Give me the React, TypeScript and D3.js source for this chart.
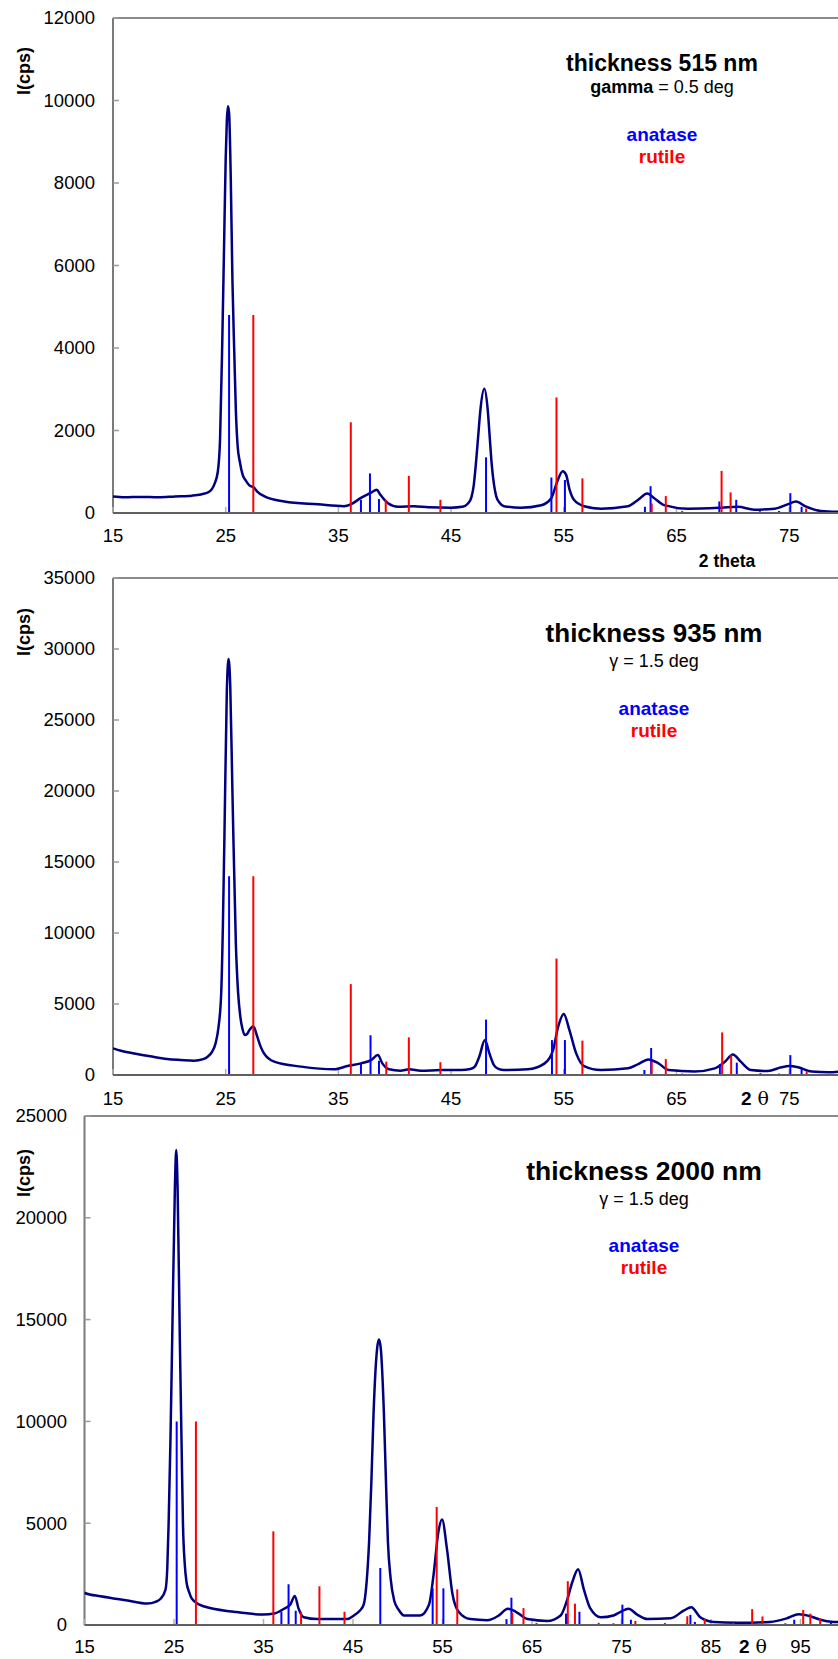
import React, { useEffect } from "react";
import * as d3 from "d3";

// ---------- DATA ----------
// Panel 1: thickness 515 nm, gamma = 0.5 deg  ([2theta, I(cps)])
const curve515: [number, number][] = [
  [15, 400], [16, 380], [17.5, 390], [19, 380], [20.5, 400], [22, 420], [22.8, 450], [23.5, 510],
  [24.0, 700], [24.3, 1000], [24.5, 1800], [24.7, 4200], [24.85, 6400], [25.0, 8600], [25.1, 9500],
  [25.2, 9860], [25.3, 9700], [25.45, 8100], [25.6, 5600], [25.77, 3800], [25.9, 2500], [26.06, 1620],
  [26.25, 1250], [26.5, 930], [26.8, 780], [27.1, 670], [27.5, 620], [27.8, 520],
  [28.4, 410], [30.2, 280], [33.2, 210], [35.5, 165], [36.1, 210], [37.0, 365], [37.9, 495],
  [38.4, 565], [38.7, 450], [39.4, 235], [40.3, 150], [41.7, 165], [43, 140], [45, 130], [46.0, 150],
  [46.5, 230], [46.8, 380], [47.0, 650], [47.2, 1190], [47.4, 1850], [47.6, 2500], [47.95, 3010],
  [48.25, 2500], [48.45, 1750], [48.6, 1190], [48.8, 700], [49.0, 410], [49.3, 250],
  [49.7, 165], [51.2, 130], [53.0, 190], [53.9, 365], [54.3, 670], [54.9, 1015], [55.2, 930],
  [55.5, 580], [55.9, 320], [56.8, 165], [58.3, 105], [60.7, 165], [61.6, 320], [62.4, 475],
  [63.0, 365], [63.9, 190], [66.0, 105], [69.0, 130], [70.45, 150], [71.9, 80], [73.7, 105],
  [74.9, 215], [75.6, 280], [76.4, 165], [77.8, 50], [79.4, 30],
];
const anatase515: [number, number][] = [
  [25.3, 4800], [37.0, 320], [37.8, 960], [38.6, 340], [48.1, 1350], [53.9, 860], [55.1, 800],
  [62.2, 150], [62.7, 650], [68.8, 280], [70.3, 320], [74.1, 50], [75.1, 480], [76.1, 150],
];
const rutile515: [number, number][] = [
  [27.45, 4800], [36.1, 2200], [39.2, 320], [41.25, 900], [44.05, 320], [54.35, 2800], [56.65, 840],
  [62.8, 230], [64.05, 410], [65.5, 50], [69.0, 1020], [69.8, 500], [72.4, 50], [76.5, 110],
];

// Panel 2: thickness 935 nm, gamma = 1.5 deg
const curve935: [number, number][] = [
  [15, 1880], [15.7, 1710], [16.9, 1520], [18.3, 1320], [19.8, 1130], [21, 1060], [22.2, 1010],
  [23.0, 1120], [23.4, 1290], [23.8, 1650], [24.1, 2230], [24.35, 3300], [24.6, 5740], [24.75, 10500],
  [24.9, 17460], [25.1, 27000], [25.25, 29300], [25.4, 27500], [25.6, 19830], [25.9, 9260],
  [26.1, 5800], [26.3, 4100], [26.5, 3200], [26.7, 2810], [26.9, 2900], [27.1, 3160], [27.45, 3440],
  [27.8, 2700], [28.1, 2000], [28.4, 1520], [29.3, 940], [31.7, 590], [34.6, 400], [35.8, 630], [37.0, 820],
  [37.9, 1050], [38.5, 1400], [38.9, 820], [39.5, 400], [40.5, 300], [41.3, 400], [42.3, 300],
  [44.1, 350], [45.9, 350], [46.7, 420], [47.1, 590], [47.5, 1290], [48.0, 2460], [48.4, 1520],
  [48.8, 700], [49.2, 430], [49.7, 350], [51.8, 400], [53.3, 820], [54.05, 1760], [54.5, 3400],
  [55.0, 4290], [55.5, 3160], [56.1, 1520], [56.8, 630], [58.3, 350], [60.7, 470], [61.6, 770],
  [62.5, 1100], [63.4, 820], [64.3, 350], [66.6, 250], [68.4, 470], [69.3, 940], [70.0, 1450],
  [70.7, 940], [71.6, 350], [73.1, 280], [74.3, 540], [75.0, 630], [75.8, 540], [77.0, 240],
  [78.5, 190], [79.4, 240],
];
const anatase935: [number, number][] = [
  [25.3, 14000], [37.0, 820], [37.85, 2800], [38.6, 1000], [48.1, 3900], [53.95, 2460], [55.1, 2460],
  [62.15, 350], [62.75, 1900], [68.85, 770], [70.35, 870], [74.1, 100], [75.1, 1400], [76.1, 420],
];
const rutile935: [number, number][] = [
  [27.45, 14000], [36.1, 6400], [39.25, 940], [41.25, 2650], [44.05, 900], [54.35, 8200],
  [56.65, 2420], [62.8, 930], [64.05, 1120], [65.5, 100], [69.05, 3000], [69.85, 1400], [72.45, 140],
  [76.55, 280],
];

// Panel 3: thickness 2000 nm, gamma = 1.5 deg
const curve2000: [number, number][] = [
  [15.0, 1600], [15.1, 1560], [16.8, 1410], [19.8, 1200], [22.0, 1050], [23.0, 1150], [23.5, 1290],
  [24.05, 1740], [24.25, 2800], [24.4, 5000], [24.6, 9000], [24.8, 14060], [25.1, 21500],
  [25.25, 23330], [25.4, 21500], [25.65, 14060], [25.85, 8800], [26.0, 5000], [26.2, 3000],
  [26.4, 2100], [26.7, 1600], [27.0, 1290], [28.3, 920], [31.7, 650], [35.0, 510], [36.2, 560],
  [37.3, 800], [38.0, 1010], [38.5, 1430], [38.9, 830], [39.5, 380], [41.0, 290], [44.35, 290],
  [45.1, 470], [45.8, 720], [46.2, 1010], [46.5, 2000], [46.8, 4100], [47.05, 7000], [47.3, 10430],
  [47.7, 13600], [47.9, 14020], [48.1, 13600], [48.45, 10430], [48.7, 6800], [48.9, 4100],
  [49.2, 2300], [49.6, 1200], [50.1, 750], [50.7, 470], [52.5, 470], [53.5, 1010], [54.0, 2460],
  [54.55, 4600], [54.95, 5180], [55.5, 3730], [56.1, 1560], [56.8, 650], [58.1, 290], [60.0, 235],
  [61.3, 470], [62.3, 800], [63.2, 650], [64.5, 290], [66.7, 200], [68.2, 470], [68.9, 1200],
  [69.5, 2100], [70.15, 2740], [70.8, 1740], [71.5, 830], [72.7, 380], [74.1, 470], [74.9, 650],
  [75.8, 800], [76.75, 510], [77.9, 290], [80.5, 330], [82.0, 720], [82.8, 870], [83.8, 380],
  [85.3, 150], [87.9, 110], [91.6, 150], [93.5, 330], [94.8, 530], [96.1, 430], [97.2, 260],
  [98.7, 150], [99.4, 140],
];
const anatase2000: [number, number][] = [
  [25.3, 10000], [37.0, 650], [37.8, 2000], [38.6, 700], [48.05, 2800], [53.9, 1800], [55.1, 1800],
  [62.15, 290], [62.7, 1340], [68.8, 560], [70.3, 650], [74.1, 80], [75.1, 1000], [76.05, 260],
  [80.8, 40], [82.3, 80], [82.7, 500], [83.2, 150], [93.3, 80], [94.3, 260], [98.4, 130],
];
const rutile2000: [number, number][] = [
  [27.45, 10000], [36.1, 4600], [39.2, 650], [41.25, 1900], [44.05, 650], [54.35, 5800],
  [56.65, 1750], [62.8, 600], [64.05, 830], [65.5, 100], [69.0, 2150], [69.8, 1050], [72.45, 110],
  [76.55, 200], [79.85, 100], [82.35, 430], [84.3, 290], [87.5, 100], [89.6, 780], [90.75, 420],
  [95.3, 740], [96.1, 560], [97.2, 330],
];

const xTicksA = [15, 25, 35, 45, 55, 65, 75];
const xTicksB = [15, 25, 35, 45, 55, 65, 75, 85, 95];
const yTicks1 = [0, 2000, 4000, 6000, 8000, 10000, 12000];
const yTicks2 = [0, 5000, 10000, 15000, 20000, 25000, 30000, 35000];
const yTicks3 = [0, 5000, 10000, 15000, 20000, 25000];

// ---------- LAYOUT ----------
const W = 838;
const H = 1659;
const FONT = "'Liberation Sans', Arial, Helvetica, sans-serif";

type PanelCfg = {
  id: string;
  left: number;
  top: number;
  bottom: number;
  xDom: [number, number];
  xRange: [number, number];
  yMax: number;
  xTicks: number[];
  yTicks: number[];
  yLabelX: number;
  xLabelY: number;
  yTitle: [number, number];
  curve: [number, number][];
  anatase: [number, number][];
  rutile: [number, number][];
  title: string;
  titleSize: number;
  titleX: number;
  titleY: number;
  gammaY: number;
  gammaBold: boolean;
  gammaText: string;
  legendY: number;
  xTitle: { text: string; x: number; y: number; theta: boolean };
};

const panels: PanelCfg[] = [
  {
    id: "p1", left: 113, top: 18, bottom: 513, xDom: [15, 75], xRange: [113, 789.2], yMax: 12000,
    xTicks: xTicksA, yTicks: yTicks1, yLabelX: 95, xLabelY: 542, yTitle: [24, 71],
    curve: curve515, anatase: anatase515, rutile: rutile515,
    title: "thickness 515 nm", titleSize: 23, titleX: 662, titleY: 71, gammaY: 93, gammaBold: true,
    gammaText: " = 0.5 deg", legendY: 141,
    xTitle: { text: "2 theta", x: 727, y: 567, theta: false },
  },
  {
    id: "p2", left: 113, top: 578, bottom: 1075, xDom: [15, 75], xRange: [113, 789.2], yMax: 35000,
    xTicks: xTicksA, yTicks: yTicks2, yLabelX: 95, xLabelY: 1105, yTitle: [24, 632],
    curve: curve935, anatase: anatase935, rutile: rutile935,
    title: "thickness 935 nm", titleSize: 26, titleX: 654, titleY: 642, gammaY: 667, gammaBold: false,
    gammaText: " = 1.5 deg", legendY: 715,
    xTitle: { text: "2", x: 755, y: 1105, theta: true },
  },
  {
    id: "p3", left: 84.5, top: 1116, bottom: 1625, xDom: [15, 95], xRange: [84.5, 800.5], yMax: 25000,
    xTicks: xTicksB, yTicks: yTicks3, yLabelX: 67, xLabelY: 1653, yTitle: [24, 1173],
    curve: curve2000, anatase: anatase2000, rutile: rutile2000,
    title: "thickness 2000 nm", titleSize: 26.5, titleX: 644, titleY: 1180, gammaY: 1205, gammaBold: false,
    gammaText: " = 1.5 deg", legendY: 1252,
    xTitle: { text: "2", x: 753, y: 1653, theta: true },
  },
];

function Panel({ c }: { c: PanelCfg }) {
  const x = d3.scaleLinear().domain(c.xDom).range(c.xRange);
  const y = d3.scaleLinear().domain([0, c.yMax]).range([c.bottom, c.top]);
  const line = d3
    .line<[number, number]>()
    .x((d) => x(d[0]))
    .y((d) => y(d[1]))
    .curve(d3.curveMonotoneX);
  const clipId = `clip-${c.id}`;
  return (
    <g>
      <defs>
        <clipPath id={clipId}>
          <rect x={c.left} y={c.top} width={W - c.left} height={c.bottom - c.top + 1} />
        </clipPath>
      </defs>
      {/* frame */}
      <line x1={c.left} x2={W} y1={c.top} y2={c.top} stroke="#8a8a8a" strokeWidth={2} />
      <line x1={c.left} x2={c.left} y1={c.top} y2={c.bottom} stroke="#7a7a7a" strokeWidth={2} />
      {/* inward ticks */}
      {c.yTicks.map((t) => (
        <line key={`yt${t}`} x1={c.left} x2={c.left + 6} y1={y(t)} y2={y(t)} stroke="#9a9a9a" strokeWidth={1.5} />
      ))}
      {c.xTicks.map((t) => (
        <line key={`xt${t}`} x1={x(t)} x2={x(t)} y1={c.bottom} y2={c.bottom - 6} stroke="#b0b0b0" strokeWidth={1.5} />
      ))}
      <g clipPath={`url(#${clipId})`}>
        <path d={line(c.curve) || ""} fill="none" stroke="#000080" strokeWidth={2.5} strokeLinejoin="round" />
        {c.anatase.map((d, i) => (
          <line key={`a${i}`} x1={x(d[0])} x2={x(d[0])} y1={y(0)} y2={y(d[1])} stroke="#0000ff" strokeWidth={2} />
        ))}
        {c.rutile.map((d, i) => (
          <line key={`r${i}`} x1={x(d[0])} x2={x(d[0])} y1={y(0)} y2={y(d[1])} stroke="#ff0000" strokeWidth={2} />
        ))}
      </g>
      <line x1={c.left} x2={W} y1={c.bottom} y2={c.bottom} stroke="#606060" strokeWidth={2} />
      {/* y tick labels */}
      {c.yTicks.map((t) => (
        <text key={`yl${t}`} x={c.yLabelX} y={y(t)} dy="0.35em" textAnchor="end" fontSize={18.5} fontFamily={FONT} fill="#000">
          {t}
        </text>
      ))}
      {/* x tick labels */}
      {c.xTicks.map((t) => (
        <text key={`xl${t}`} x={x(t)} y={c.xLabelY} textAnchor="middle" fontSize={18.5} fontFamily={FONT} fill="#000">
          {t}
        </text>
      ))}
      {/* y title */}
      <text
        transform={`translate(${c.yTitle[0]},${c.yTitle[1]}) rotate(-90)`}
        dy="0.35em"
        textAnchor="middle"
        fontSize={18}
        fontWeight="bold"
        fontFamily={FONT}
      >
        I(cps)
      </text>
      {/* x title */}
      {c.xTitle.theta ? (
        <text x={c.xTitle.x} y={c.xTitle.y} textAnchor="middle" fontSize={19} fontFamily={FONT}>
          <tspan fontWeight="bold">2</tspan>
          <tspan fontFamily="'DejaVu Serif', serif"> θ</tspan>
        </text>
      ) : (
        <text x={c.xTitle.x} y={c.xTitle.y} textAnchor="middle" fontSize={17.5} fontWeight="bold" fontFamily={FONT}>
          {c.xTitle.text}
        </text>
      )}
      {/* annotations */}
      <text x={c.titleX} y={c.titleY} textAnchor="middle" fontSize={c.titleSize} fontWeight="bold" fontFamily={FONT}>
        {c.title}
      </text>
      <text x={c.titleX} y={c.gammaY} textAnchor="middle" fontSize={18} fontFamily={FONT}>
        {c.gammaBold ? <tspan fontWeight="bold">gamma</tspan> : <tspan>γ</tspan>}
        <tspan>{c.gammaText}</tspan>
      </text>
      <text x={c.titleX} y={c.legendY} textAnchor="middle" fontSize={19} fontWeight="bold" fontFamily={FONT} fill="#0000ff">
        anatase
      </text>
      <text x={c.titleX} y={c.legendY + 22} textAnchor="middle" fontSize={19} fontWeight="bold" fontFamily={FONT} fill="#ff0000">
        rutile
      </text>
    </g>
  );
}

export default function App() {
  useEffect(() => {
    document.body.style.margin = "0";
  }, []);
  return (
    <div style={{ position: "absolute", left: 0, top: 0, width: W, height: H, background: "#fff" }}>
      <svg width={W} height={H} viewBox={`0 0 ${W} ${H}`} style={{ display: "block", overflow: "hidden" }}>
        <rect x={0} y={0} width={W} height={H} fill="#fff" />
        {panels.map((p) => (
          <Panel key={p.id} c={p} />
        ))}
      </svg>
    </div>
  );
}
